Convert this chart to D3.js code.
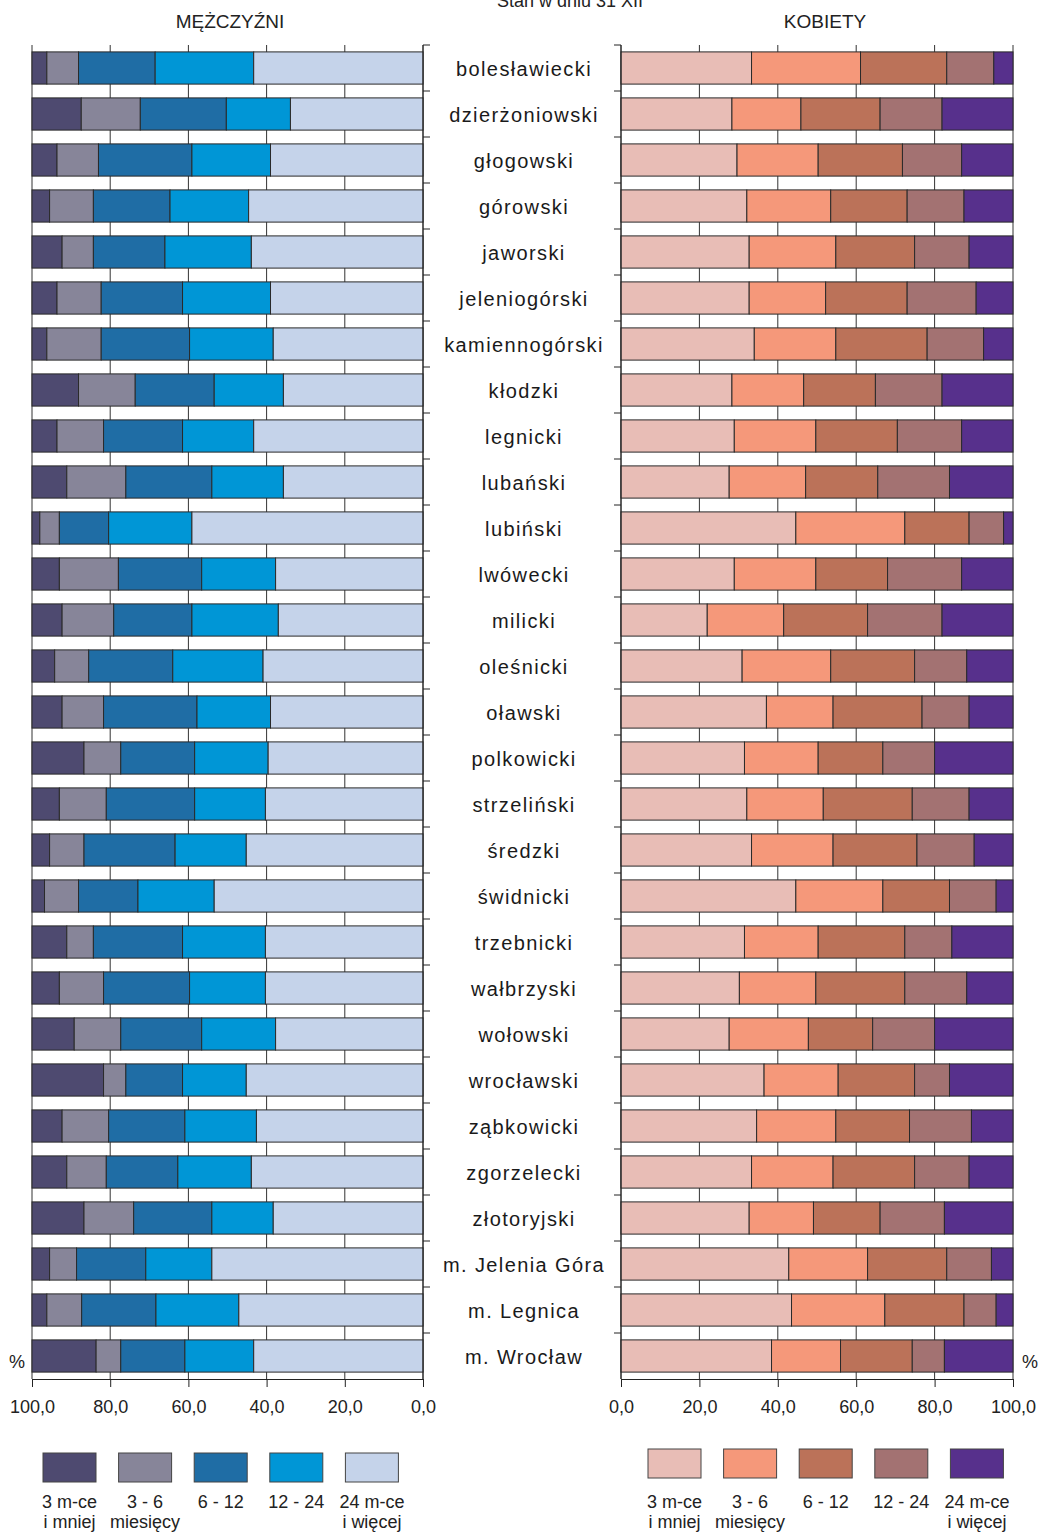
<!DOCTYPE html>
<html><head><meta charset="utf-8">
<script src="https://cdn.jsdelivr.net/npm/d3@7"></script>
<style>
html,body{margin:0;padding:0;background:#fff;}
svg{display:block;font-family:"Liberation Sans",Arial,sans-serif;}
</style></head>
<body>
<svg id="chart" width="1041" height="1533"></svg>
<script>
const categories = ["bolesławiecki","dzierżoniowski","głogowski","górowski","jaworski","jeleniogórski","kamiennogórski","kłodzki","legnicki","lubański","lubiński","lwówecki","milicki","oleśnicki","oławski","polkowicki","strzeliński","średzki","świdnicki","trzebnicki","wałbrzyski","wołowski","wrocławski","ząbkowicki","zgorzelecki","złotoryjski","m. Jelenia Góra","m. Legnica","m. Wrocław"];

const seriesLabels = [["3 m-ce","i mniej"],["3 - 6","miesięcy"],["6 - 12",""],["12 - 24",""],["24 m-ce","i więcej"]];

// MĘŻCZYŹNI (%)
const men_3 = [3.8,12.6,6.4,4.5,7.7,6.4,3.8,11.9,6.4,8.9,2.0,7.0,7.7,5.8,7.7,13.3,7.0,4.5,3.2,8.9,7.0,10.8,18.3,7.7,8.9,13.3,4.5,3.8,16.4];
const men_3_6 = [8.1,15.1,10.6,11.2,8.0,11.3,13.9,14.5,11.9,15.1,5.0,15.1,13.2,8.7,10.6,9.4,12.0,8.8,8.7,6.8,11.3,11.9,5.7,11.9,10.1,12.7,6.9,8.9,6.3];
const men_6_12 = [19.6,22.0,23.9,19.6,18.3,20.8,22.6,20.2,20.2,22.0,12.6,21.3,20.0,21.5,23.9,18.9,22.6,23.3,15.2,22.8,22.0,20.7,14.5,19.5,18.3,20.0,17.7,19.0,16.4];
const men_12_24 = [25.2,16.4,20.1,20.1,22.1,22.5,21.4,17.7,18.2,18.3,21.3,18.9,22.1,23.1,18.8,18.8,18.1,18.2,19.5,21.2,19.4,18.9,16.3,18.3,18.8,15.7,16.9,21.2,17.6];
const men_24 = [43.3,33.9,39.0,44.6,43.9,39.0,38.3,35.7,43.3,35.7,59.1,37.7,37.0,40.9,39.0,39.6,40.3,45.2,53.4,40.3,40.3,37.7,45.2,42.6,43.9,38.3,54.0,47.1,43.3];

// KOBIETY (%)
const women_3 = [33.3,28.3,29.6,32.1,32.7,32.7,34.0,28.3,28.9,27.6,44.6,28.9,22.0,30.9,37.1,31.5,32.1,33.3,44.6,31.5,30.2,27.6,36.5,34.6,33.3,32.7,42.8,43.5,38.4];
const women_3_6 = [27.8,17.6,20.7,21.4,22.1,19.5,20.8,18.3,20.8,19.5,27.8,20.8,19.5,22.6,17.0,18.8,19.5,20.8,22.2,18.8,19.5,20.2,18.9,20.2,20.8,16.4,20.1,23.8,17.6];
const women_6_12 = [22.0,20.2,21.5,19.5,20.1,20.8,23.3,18.3,20.8,18.4,16.4,18.3,21.4,21.4,22.7,16.5,22.7,21.4,17.0,22.1,22.7,16.4,19.5,18.8,20.8,17.0,20.2,20.2,18.3];
const women_12_24 = [12.0,15.8,15.1,14.5,13.9,17.6,14.4,17.0,16.4,18.3,8.8,18.9,19.0,13.3,12.0,13.2,14.5,14.6,11.9,12.0,15.8,15.8,8.9,15.8,13.9,16.4,11.4,8.2,8.2];
const women_24 = [4.9,18.1,13.1,12.5,11.2,9.4,7.5,18.1,13.1,16.2,2.4,13.1,18.1,11.8,11.2,20.0,11.2,9.9,4.3,15.6,11.8,20.0,16.2,10.6,11.2,17.5,5.5,4.3,17.5];

const axisTicks = [0,20,40,60,80,100];
const menColors = ["#4e4a70","#878599","#1f6da5","#0096d6","#c5d3ea"];
const womenColors = ["#e8bdb6","#f5987a","#bb7259","#a37272","#57308c"];

const svg = d3.select("#chart");
const fmt = v => d3.format(".1f")(v).replace(".", ",");

const y = d3.scaleBand().domain(categories).range([45,1379]).paddingInner(0.3).paddingOuter(0.15);
const xL = d3.scaleLinear().domain([100,0]).range([32,423]);
const xR = d3.scaleLinear().domain([0,100]).range([621,1013]);

const menSeries = [men_3,men_3_6,men_6_12,men_12_24,men_24];
const womenSeries = [women_3,women_3_6,women_6_12,women_12_24,women_24];

function stackRows(series){
  return categories.map((c,i)=>{
    let acc=0;
    return series.map((s,k)=>{const a=acc; acc+=s[i]; return {cat:c,k,a,b:acc};});
  });
}

// gridlines
function grid(x, vals){
  svg.append("g").selectAll("line").data(vals).join("line")
    .attr("x1",d=>x(d)).attr("x2",d=>x(d)).attr("y1",45).attr("y2",1379)
    .attr("stroke","#333").attr("stroke-width",1);
}
grid(xL, axisTicks);
grid(xR, axisTicks);

// men bars (stacked from 100 on the left)
const gM = svg.append("g");
stackRows(menSeries).forEach(row=>{
  gM.selectAll(null).data(row).join("rect")
    .attr("x",d=>xL(100-d.a)).attr("width",d=>xL(100-d.b)-xL(100-d.a))
    .attr("y",d=>y(d.cat)).attr("height",y.bandwidth())
    .attr("fill",d=>menColors[d.k]).attr("stroke","#2a2a2a").attr("stroke-width",1);
});
const gW = svg.append("g");
stackRows(womenSeries).forEach(row=>{
  gW.selectAll(null).data(row).join("rect")
    .attr("x",d=>xR(d.a)).attr("width",d=>xR(d.b)-xR(d.a))
    .attr("y",d=>y(d.cat)).attr("height",y.bandwidth())
    .attr("fill",d=>womenColors[d.k]).attr("stroke","#2a2a2a").attr("stroke-width",1);
});

// inner vertical axes with boundary ticks
const bounds = d3.range(categories.length+1).map(i=>45+i*y.step());
svg.append("line").attr("x1",423).attr("x2",423).attr("y1",45).attr("y2",1379).attr("stroke","#222");
svg.append("g").selectAll("line").data(bounds.slice(0,-1)).join("line")
  .attr("x1",423).attr("x2",430).attr("y1",d=>d).attr("y2",d=>d).attr("stroke","#222");
svg.append("line").attr("x1",621).attr("x2",621).attr("y1",45).attr("y2",1379).attr("stroke","#222");
svg.append("g").selectAll("line").data(bounds.slice(0,-1)).join("line")
  .attr("x1",614).attr("x2",621).attr("y1",d=>d).attr("y2",d=>d).attr("stroke","#222");

// bottom axes
function bottomAxis(x){
  const g = svg.append("g").attr("transform","translate(0,1379)")
    .call(d3.axisBottom(x).tickValues(axisTicks).tickFormat(fmt).tickSize(8).tickPadding(13));
  g.select(".domain").attr("stroke","#222");
  g.selectAll(".tick line").attr("stroke","#222");
  g.selectAll("text").attr("font-size",18).attr("fill","#222")
    .attr("font-family","'Liberation Sans',Arial,sans-serif");
}
bottomAxis(xL);
bottomAxis(xR);

// category labels
svg.append("g").selectAll("text").data(categories).join("text")
  .attr("x",524).attr("y",d=>y(d)+y.bandwidth()/2+8)
  .attr("text-anchor","middle").attr("font-size",20).attr("letter-spacing","1.4px")
  .attr("fill","#1a1a1a").text(d=>d);

// titles (the reference shows the top title partly cut at the page edge)
svg.append("text").attr("x",570).attr("y",7).attr("text-anchor","middle").attr("font-size",18).attr("fill","#222").text("Stan w dniu 31 XII");
svg.append("text").attr("x",230).attr("y",28).attr("text-anchor","middle").attr("font-size",19).attr("fill","#222").text("MĘŻCZYŹNI");
svg.append("text").attr("x",825).attr("y",28).attr("text-anchor","middle").attr("font-size",19).attr("fill","#222").text("KOBIETY");
svg.append("text").attr("x",17).attr("y",1368).attr("text-anchor","middle").attr("font-size",18).attr("fill","#222").text("%");
svg.append("text").attr("x",1030).attr("y",1368).attr("text-anchor","middle").attr("font-size",18).attr("fill","#222").text("%");

// legends
function legend(x0, yBox, colors){
  const step = 75.6, w = 53, h = 29;
  const g = svg.append("g");
  colors.forEach((c,i)=>{
    const x = x0 + i*step;
    g.append("rect").attr("x",x).attr("y",yBox).attr("width",w).attr("height",h)
      .attr("fill",c).attr("stroke","#444").attr("stroke-width",1);
    seriesLabels[i].forEach((t,j)=>{
      if(!t) return;
      g.append("text").attr("x",x+w/2).attr("y",1508+j*19.5).attr("text-anchor","middle")
        .attr("font-size",18).attr("fill","#222").text(t);
    });
  });
}
legend(43, 1453, menColors);
legend(648, 1449, womenColors);
</script>
</body></html>
